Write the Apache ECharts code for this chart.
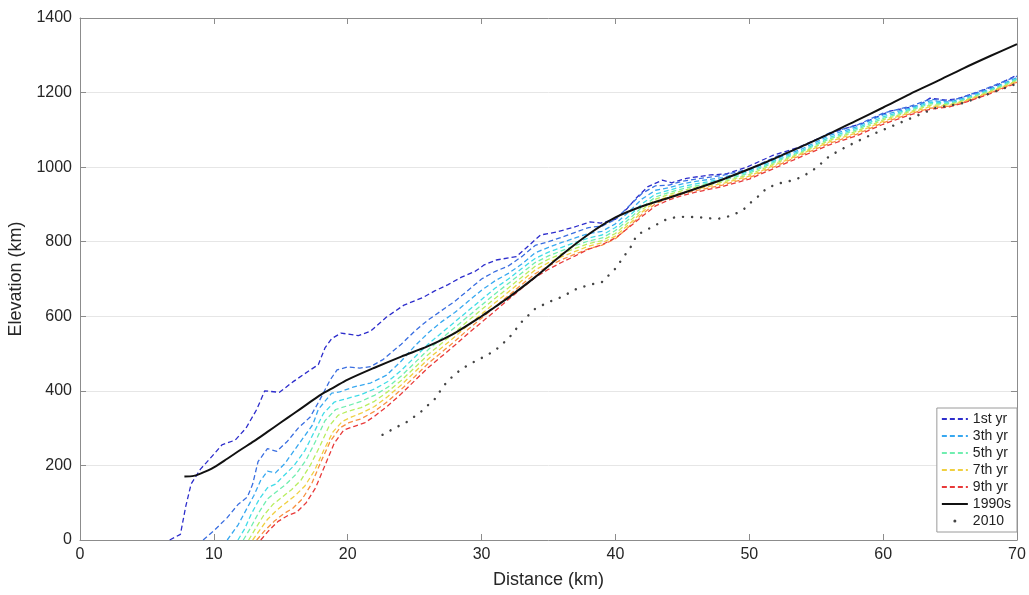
<!DOCTYPE html>
<html>
<head>
<meta charset="utf-8">
<script src="https://cdn.jsdelivr.net/npm/echarts@6/dist/echarts.min.js"></script>
<style>html,body{margin:0;padding:0;background:#fff;}#c{width:1029px;height:595px;}</style>
</head>
<body>
<div id="c"></div>
<script>
// ---- data: [distance km, elevation] ----
const yr1 = [[6.7,0],[7.5,15],[7.9,90],[8.3,150],[9,190],[10,230],[10.6,255],[11.6,268],[12.4,300],[13.2,350],[13.8,400],[14.9,396],[15.9,424],[17.2,456],[17.8,470],[18.3,515],[18.8,540],[19.5,555],[20.8,548],[21.7,560],[22.9,598],[24.2,630],[25.6,650],[26.5,668],[27.5,685],[28.5,705],[29.5,720],[30.2,738],[31.1,751],[32.6,760],[33.6,792],[34.4,818],[35.6,826],[36.8,838],[38.1,853],[38.9,850],[40,860],[40.9,890],[41.5,915],[42.4,947],[43.5,965],[44.2,958],[45.3,970],[47.1,979],[48.3,982],[49.8,1000],[51.8,1032],[53.6,1052],[55.5,1082],[56.8,1100],[58.5,1118],[60.5,1150],[62.7,1166],[63.5,1185],[64.7,1180],[65.5,1183],[67,1200],[68.5,1220],[70,1247]];
const yr2 = [[9.2,0],[10,25],[11,60],[11.8,95],[12.5,115],[12.9,150],[13.3,210],[14,245],[14.7,238],[15.5,265],[16.3,300],[17.2,330],[17.9,375],[18.7,430],[19.2,456],[20,464],[20.9,461],[21.7,465],[22.6,483],[23.2,501],[24,525],[25,560],[26,590],[27,615],[28,640],[29,670],[30,700],[31,720],[32,735],[33,760],[34,790],[35,800],[36,812],[37,825],[38,838],[39,842],[40,860],[41,895],[42,930],[43,950],[44,952],[45,962],[46,968],[48,978],[50,995],[52,1028],[54,1055],[56,1092],[58,1112],[60,1145],[62,1163],[63.5,1182],[65,1178],[66,1188],[68,1215],[70,1244]];
const yr3 = [[11,0],[11.8,40],[12.4,80],[13,120],[13.5,160],[14,185],[14.6,180],[15.3,205],[16,240],[16.8,280],[17.4,310],[17.8,350],[18.8,394],[19.4,397],[20.4,410],[21.7,421],[22.9,442],[24,480],[25,520],[26,555],[27,585],[28,610],[29,640],[30,670],[31,695],[32,715],[33,740],[34,770],[35,785],[36,798],[37,810],[38,822],[39,828],[40,848],[41,880],[42,915],[43,938],[44,945],[45,955],[46,962],[48,972],[50,992],[52,1022],[54,1050],[56,1085],[58,1108],[60,1140],[62,1158],[63.5,1178],[65,1175],[66,1185],[68,1210],[70,1240]];
const yr4 = [[11.8,0],[12.3,30],[12.8,70],[13.4,110],[14,140],[14.6,150],[15.3,175],[16,200],[16.8,240],[17.5,290],[18.2,340],[19,370],[20,380],[21,390],[22,405],[23,425],[24,455],[25,490],[26,525],[27,555],[28,585],[29,615],[30,645],[31,675],[32,700],[33,728],[34,755],[35,772],[36,785],[37,798],[38,810],[39,818],[40,838],[41,868],[42,902],[43,928],[44,938],[45,948],[46,955],[48,968],[50,988],[52,1018],[54,1046],[56,1080],[58,1104],[60,1135],[62,1155],[63.5,1174],[65,1172],[66,1182],[68,1207],[70,1237]];
const yr5 = [[12.2,0],[12.7,30],[13.3,70],[14,110],[14.7,130],[15.4,150],[16.1,175],[16.9,215],[17.6,265],[18.3,320],[19.1,350],[20,360],[21,372],[22,388],[23,410],[24,440],[25,475],[26,510],[27,540],[28,570],[29,600],[30,630],[31,660],[32,688],[33,716],[34,744],[35,762],[36,776],[37,790],[38,802],[39,810],[40,830],[41,860],[42,893],[43,920],[44,932],[45,942],[46,950],[48,964],[50,984],[52,1015],[54,1043],[56,1076],[58,1100],[60,1131],[62,1152],[63.5,1170],[65,1170],[66,1180],[68,1205],[70,1235]];
const yr6 = [[12.6,0],[13.1,30],[13.7,65],[14.4,95],[15.1,115],[15.8,135],[16.5,160],[17.2,200],[17.9,250],[18.6,305],[19.3,335],[20,345],[21,355],[22,372],[23,398],[24,428],[25,462],[26,497],[27,527],[28,557],[29,588],[30,618],[31,648],[32,676],[33,705],[34,734],[35,753],[36,768],[37,782],[38,795],[39,803],[40,822],[41,853],[42,886],[43,914],[44,927],[45,937],[46,946],[48,960],[50,980],[52,1011],[54,1040],[56,1072],[58,1096],[60,1127],[62,1149],[63.5,1166],[65,1168],[66,1178],[68,1203],[70,1232]];
const yr7 = [[12.9,0],[13.4,25],[14,55],[14.7,80],[15.4,100],[16.1,120],[16.8,145],[17.5,185],[18.2,240],[18.9,290],[19.6,318],[20.3,330],[21,340],[22,358],[23,385],[24,416],[25,450],[26,485],[27,515],[28,545],[29,576],[30,606],[31,636],[32,665],[33,695],[34,724],[35,744],[36,760],[37,774],[38,788],[39,797],[40,815],[41,846],[42,880],[43,908],[44,922],[45,932],[46,941],[48,956],[50,976],[52,1007],[54,1037],[56,1068],[58,1092],[60,1123],[62,1146],[63.5,1162],[65,1166],[66,1176],[68,1201],[70,1230]];
const yr8 = [[13.2,0],[13.8,25],[14.5,50],[15.2,70],[15.9,85],[16.6,110],[17.3,150],[18,210],[18.7,265],[19.4,300],[20.1,315],[21,325],[22,345],[23,372],[24,404],[25,438],[26,473],[27,503],[28,533],[29,565],[30,595],[31,625],[32,655],[33,685],[34,714],[35,735],[36,752],[37,767],[38,781],[39,791],[40,808],[41,840],[42,874],[43,902],[44,917],[45,928],[46,937],[48,952],[50,972],[52,1003],[54,1034],[56,1064],[58,1088],[60,1119],[62,1143],[63.5,1158],[65,1164],[66,1174],[68,1199],[70,1228]];
const yr9 = [[13.5,0],[14.1,25],[14.8,50],[15.5,65],[16.2,75],[16.9,100],[17.6,140],[18.3,200],[19,260],[19.7,295],[20.5,305],[21.3,315],[22,332],[23,360],[24,392],[25,427],[26,462],[27,492],[28,522],[29,554],[30,584],[31,614],[32,645],[33,675],[34,704],[35,726],[36,745],[37,762],[38,780],[39,792],[40,810],[41,838],[42,868],[43,896],[44,912],[45,924],[46,933],[48,948],[50,968],[52,999],[54,1030],[56,1060],[58,1084],[60,1115],[62,1140],[63.5,1155],[65,1162],[66,1172],[68,1197],[70,1226]];
const line1990s = [[7.8,170],[8.5,172],[9,178],[10,195],[11,218],[12,242],[13,265],[14,290],[15,315],[16,340],[17,365],[18,390],[19,410],[20,430],[22,462],[24,492],[26,520],[28,555],[30,600],[31,625],[32,650],[34,705],[36,765],[38,820],[40,865],[42,895],[44,918],[46,942],[48,967],[50,995],[52,1025],[54,1057],[56,1090],[58,1125],[60,1160],[62,1196],[64,1230],[66,1265],[68,1298],[70,1330]];
const line2010 = [[22.6,282],[23.5,300],[24.5,318],[25.5,345],[26.5,378],[27.2,415],[28,445],[29,470],[30,488],[31,508],[32,540],[33,585],[34,620],[35,638],[36,652],[37,672],[38,684],[39,692],[40,728],[40.6,759],[41.1,783],[41.6,818],[42.6,837],[43.7,858],[44.6,867],[46.1,866],[47.6,861],[48.3,866],[49.3,880],[49.8,893],[50.3,912],[50.8,925],[51.3,944],[52.3,957],[53.3,965],[54,975],[55,998],[56,1030],[57,1050],[58,1068],[59,1085],[60,1100],[61,1115],[62,1130],[63,1145],[64,1160],[65,1165],[66,1172],[68,1198],[70,1224]];

const yearNames = ['1st yr','2nd yr','3th yr','4th yr','5th yr','6th yr','7th yr','8th yr','9th yr'];
const yearData = [yr1, yr2, yr3, yr4, yr5, yr6, yr7, yr8, yr9];
const yearColors = ['#2d2dcc','#3a6ee0','#38a8f0','#40dce8','#70eeb0','#b8ee60','#f0d040','#f89040','#e83a3a'];
const legendNames = ['1st yr','3th yr','5th yr','7th yr','9th yr','1990s'];
const xTicks = {min:0, max:70, interval:10};
const yTicks = {min:0, max:1400, interval:200};

const FONT = "'Liberation Sans', Arial, sans-serif";
const series = yearData.map((d, i) => ({
  name: yearNames[i], type: 'line', data: d, symbol: 'none',
  lineStyle: {color: yearColors[i], width: 1.3, type: [5, 3]},
  itemStyle: {color: yearColors[i]}, z: 2 + i
}));
series.push({
  name: '1990s', type: 'line', data: line1990s, symbol: 'none', smooth: 0.3,
  lineStyle: {color: '#111', width: 2}, itemStyle: {color: '#111'}, z: 20
});
series.push({
  name: '2010', type: 'line', data: line2010, symbol: 'none',
  lineStyle: {color: '#444', width: 2.4, type: [0.1, 9], cap: 'round'}, itemStyle: {color: '#444'}, z: 21
});

const legendData = legendNames.map(n => ({name: n, itemStyle: {opacity: 0}}));
legendData.push({name: '2010', icon: 'path://M0,0M26,0M26,12M0,12M11.5,6a1.5,1.5 0 1,0 3,0a1.5,1.5 0 1,0 -3,0Z', itemStyle: {opacity: 1}});

const chart = echarts.init(document.getElementById('c'), null, {renderer: 'canvas'});
const axisLineColor = '#8c8c8c';
chart.setOption({
  animation: false,
  backgroundColor: '#fff',
  textStyle: {fontFamily: FONT},
  grid: {left: 80, right: 12, top: 18, bottom: 55, containLabel: false, outerBoundsMode: 'none'},
  legend: {
    orient: 'vertical', right: 12, bottom: 63,
    backgroundColor: '#fff', borderColor: '#9a9a9a', borderWidth: 1,
    padding: [4, 6, 4, 4], itemWidth: 26, itemHeight: 12, itemGap: 3,
    textStyle: {fontFamily: FONT, fontSize: 14, color: '#222'},
    data: legendData
  },
  xAxis: [{
    type: 'value', min: xTicks.min, max: xTicks.max, interval: xTicks.interval,
    name: 'Distance (km)', nameLocation: 'middle', nameGap: 31,
    nameTextStyle: {fontFamily: FONT, fontSize: 18, color: '#262626'},
    axisLine: {show: true, onZero: false, lineStyle: {color: axisLineColor, width: 1}},
    axisTick: {show: true, inside: true, length: 6, lineStyle: {color: axisLineColor}},
    axisLabel: {fontFamily: FONT, fontSize: 16, color: '#262626', margin: 7},
    splitLine: {show: false}
  }, {
    type: 'value', position: 'top', min: xTicks.min, max: xTicks.max, interval: xTicks.interval,
    axisLine: {show: true, onZero: false, lineStyle: {color: axisLineColor, width: 1}},
    axisTick: {show: true, inside: true, length: 6, lineStyle: {color: axisLineColor}},
    axisLabel: {show: false}, splitLine: {show: false}
  }],
  yAxis: [{
    type: 'value', min: yTicks.min, max: yTicks.max, interval: yTicks.interval,
    name: 'Elevation (km)', nameLocation: 'middle', nameGap: 48, nameRotate: 90,
    nameTextStyle: {fontFamily: FONT, fontSize: 18, color: '#262626'},
    axisLine: {show: true, onZero: false, lineStyle: {color: axisLineColor, width: 1}},
    axisTick: {show: true, inside: true, length: 6, lineStyle: {color: axisLineColor}},
    axisLabel: {fontFamily: FONT, fontSize: 16, color: '#262626', margin: 8, formatter: v => String(v)},
    splitLine: {show: true, lineStyle: {color: '#e6e6e6', width: 1}}
  }, {
    type: 'value', position: 'right', min: yTicks.min, max: yTicks.max, interval: yTicks.interval,
    axisLine: {show: true, onZero: false, lineStyle: {color: axisLineColor, width: 1}},
    axisTick: {show: true, inside: true, length: 6, lineStyle: {color: axisLineColor}},
    axisLabel: {show: false}, splitLine: {show: false}
  }],
  series: series
});
</script>
</body>
</html>
